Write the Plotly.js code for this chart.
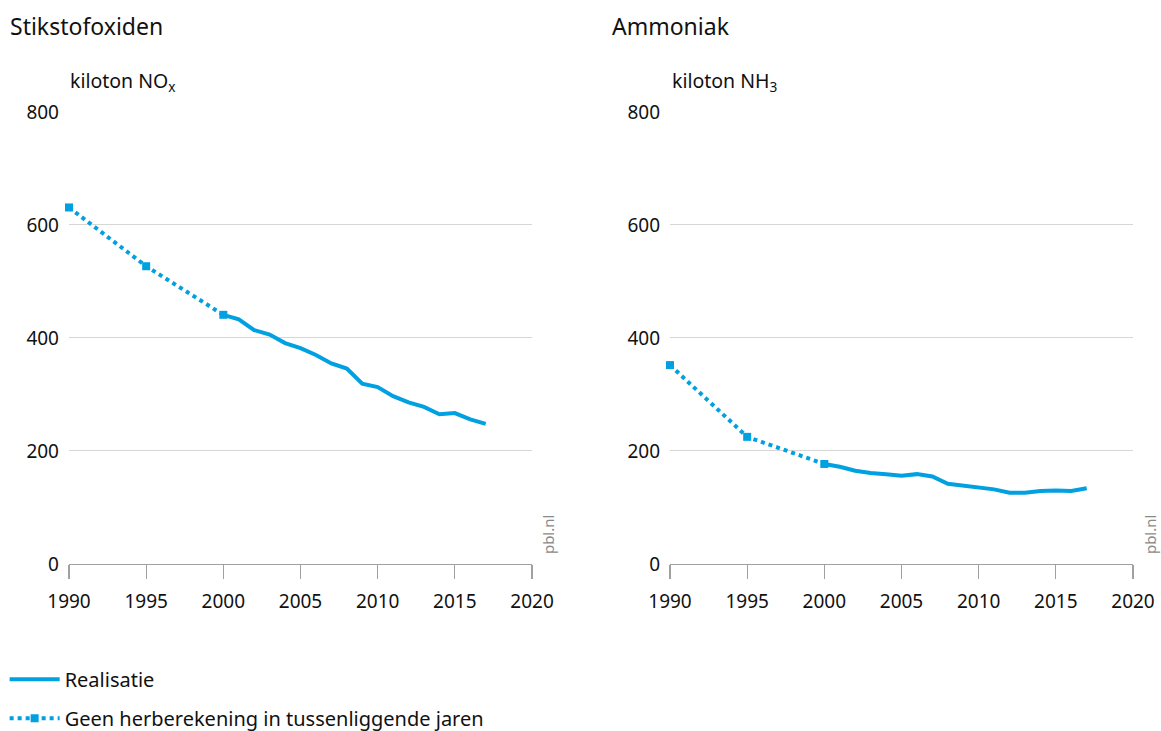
<!DOCTYPE html>
<html>
<head>
<meta charset="utf-8">
<script src="https://cdn.plot.ly/plotly-3.0.1.min.js"></script>
<style>html,body{margin:0;padding:0;background:#fff;}#chart{width:1161px;height:731px;}</style>
</head>
<body>
<div id="chart"></div>
<script>
// Data
var yearsReal = [2000,2001,2002,2003,2004,2005,2006,2007,2008,2009,2010,2011,2012,2013,2014,2015,2016,2017];
var yearsNoRecalc = [1990,1995,2000];
var noxReal = [441,433,414,406,391,382,370,355,346,319,313,297,286,278,265,267,256,248];
var noxNoRecalc = [631,527,441];
var nh3Real = [177,172,165,161,159,156,159,155,142,139,136,132,126,126,129,130,129,134];
var nh3NoRecalc = [352,225,177];
var seriesNames = ['Realisatie','Geen herberekening in tussenliggende jaren'];
var panelTitles = ['Stikstofoxiden','Ammoniak'];
var unitLabels = ['kiloton NO<sub>x</sub>','kiloton NH<sub>3</sub>'];
var xTicks = [1990,1995,2000,2005,2010,2015,2020];
var yTicks = [0,200,400,600,800];

var blue = '#00a0e1';
var font = 'Noto Sans, Open Sans, sans-serif';

var traces = [
  {x: yearsReal, y: noxReal, xaxis:'x', yaxis:'y', mode:'lines', name: seriesNames[0],
   line:{color:blue, width:4}, legendgroup:'a', showlegend:true, cliponaxis:false},
  {x: yearsNoRecalc, y: noxNoRecalc, xaxis:'x', yaxis:'y', mode:'lines+markers', name: seriesNames[1],
   line:{color:blue, width:4, dash:'dot'}, marker:{symbol:'square', size:8, color:blue}, legendgroup:'b', showlegend:true, cliponaxis:false},
  {x: yearsReal, y: nh3Real, xaxis:'x2', yaxis:'y2', mode:'lines', name: seriesNames[0],
   line:{color:blue, width:4}, showlegend:false, cliponaxis:false},
  {x: yearsNoRecalc, y: nh3NoRecalc, xaxis:'x2', yaxis:'y2', mode:'lines+markers', name: seriesNames[1],
   line:{color:blue, width:4, dash:'dot'}, marker:{symbol:'square', size:8, color:blue}, showlegend:false, cliponaxis:false}
];

function xax(dom, anchor){
  return {domain: dom, anchor: anchor, range:[1990,2020], tickvals: xTicks, ticktext: xTicks.map(String),
    showgrid:false, zeroline:false, showline:true, linecolor:'#a0a0a0', linewidth:1.5,
    ticks:'outside', ticklen:14, tickwidth:1.2, tickcolor:'#a0a0a0', ticklabelstandoff:6,
    tickfont:{family:font, size:19, color:'#111'}, fixedrange:true};
}
function yax(anchor){
  return {domain:[0.2285,0.8468], anchor: anchor, range:[0,800], tickvals: yTicks, ticktext: yTicks.map(String),
    showgrid:true, gridcolor:'#d6d6d6', gridwidth:1, zeroline:false, showline:false, ticks:'',
    ticklabelstandoff:9,
    tickfont:{family:font, size:19, color:'#111'}, fixedrange:true};
}

var ann = [];
var titleX = [8/1161, 610/1161];
var unitX = [68/1161, 670/1161];
var pblX = [548/1161, 1150/1161];
for (var i=0;i<2;i++){
  ann.push({text: panelTitles[i], xref:'paper', yref:'paper', x:titleX[i], y:0.9644, xanchor:'left', yanchor:'middle',
    showarrow:false, font:{family:font, size:23, color:'#111'}});
  ann.push({text: unitLabels[i], xref:'paper', yref:'paper', x:unitX[i], y:0.888, xanchor:'left', yanchor:'middle',
    showarrow:false, font:{family:font, size:19.5, color:'#111'}});
  ann.push({text:'pbl.nl', xref:'paper', yref:'paper', x:pblX[i], y:0.268, xanchor:'center', yanchor:'middle',
    textangle:-90, showarrow:false, font:{family:font, size:15, color:'#8a8a8a'}});
}

var layout = {
  width:1161, height:731,
  margin:{l:0,r:0,t:0,b:0,autoexpand:false},
  paper_bgcolor:'#fff', plot_bgcolor:'#fff',
  font:{family:font, color:'#111'},
  xaxis: xax([0.05943,0.45823],'y'),
  yaxis: yax('x'),
  xaxis2: xax([0.57709,0.97588],'y2'),
  yaxis2: yax('x2'),
  showlegend:true,
  legend:{x:0.004, y:0.044, xanchor:'left', yanchor:'middle', orientation:'v', tracegroupgap:10, itemwidth:50,
    font:{family:font, size:20, color:'#111'}, bgcolor:'rgba(0,0,0,0)'},
  annotations: ann
};

Plotly.newPlot('chart', traces, layout, {staticPlot:true, displayModeBar:false});
</script>
</body>
</html>
